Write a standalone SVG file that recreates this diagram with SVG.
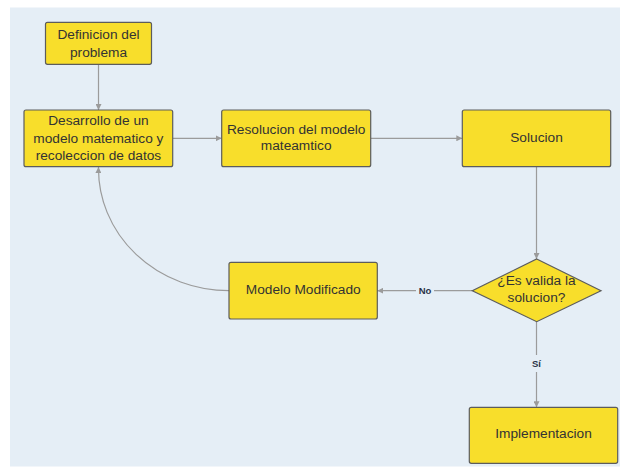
<svg xmlns="http://www.w3.org/2000/svg" width="620" height="470" viewBox="0 0 620 470">
<defs>
<style>
.box{fill:#f8de2b;stroke:#5c5c5c;stroke-width:1.2}
.t{font-family:"Liberation Sans",Arial,sans-serif;font-size:13.7px;fill:#333333;text-anchor:middle}
.lbl{font-family:"Liberation Sans",Arial,sans-serif;font-size:9.5px;font-weight:bold;fill:#2b3348;text-anchor:middle}
.c{fill:none;stroke:#9b9b9b;stroke-width:1.2}
</style>
<marker id="ah" viewBox="0 0 10 10" refX="10" refY="5" markerWidth="6" markerHeight="6" markerUnits="userSpaceOnUse" orient="auto">
<path d="M0,0 L10,5 L0,10 z" fill="#9b9b9b"/>
</marker>
</defs>
<rect x="10" y="7.5" width="610" height="459" fill="#e5eef6"/>
<g id="connectors">
<path class="c" d="M98.5,64.5 L98.5,110" marker-end="url(#ah)"/>
<path class="c" d="M172.7,138.3 L221.7,138.3" marker-end="url(#ah)"/>
<path class="c" d="M370.7,138.3 L462.3,138.3" marker-end="url(#ah)"/>
<path class="c" d="M536.5,166.7 L536.5,259" marker-end="url(#ah)"/>
<path class="c" d="M472.3,290.7 L377.3,290.7" marker-end="url(#ah)"/>
<path class="c" d="M536.5,321.7 L536.5,355 M536.5,372 L536.5,407.3" marker-end="url(#ah)"/>
<path class="c" d="M229,290.7 A130.5 122 0 0 1 98.5,167" marker-end="url(#ah)"/>
<rect x="416" y="284" width="18" height="12" fill="#e5eef6"/>
<text class="lbl" x="425" y="293.5">No</text>
<text class="lbl" x="536.5" y="366.8">Sí</text>
</g>
<g id="definicion">
<rect class="box" x="45.5" y="22.3" width="106" height="42" rx="2"/>
<text class="t" x="98.5" y="39">Definicion del</text>
<text class="t" x="98.5" y="56.5">problema</text>
</g>
<g id="desarrollo">
<rect class="box" x="24" y="110" width="148.7" height="56.7" rx="2"/>
<text class="t" x="98.4" y="125">Desarrollo de un</text>
<text class="t" x="98.4" y="142.5">modelo matematico y</text>
<text class="t" x="98.4" y="160">recoleccion de datos</text>
</g>
<g id="resolucion">
<rect class="box" x="221.7" y="110" width="149" height="56.7" rx="2"/>
<text class="t" x="296.2" y="134">Resolucion del modelo</text>
<text class="t" x="296.2" y="150">mateamtico</text>
</g>
<g id="solucion">
<rect class="box" x="462.3" y="110" width="148.4" height="56.7" rx="2"/>
<text class="t" x="536.5" y="141.5">Solucion</text>
</g>
<g id="decision">
<polygon class="box" points="536.7,259 601,290.7 536.7,321.7 472.3,290.7"/>
<text class="t" x="536.5" y="285">¿Es valida la</text>
<text class="t" x="536.5" y="302">solucion?</text>
</g>
<g id="modelo-modificado">
<rect class="box" x="229" y="262.3" width="148.3" height="56.7" rx="2"/>
<text class="t" x="303.2" y="294">Modelo Modificado</text>
</g>
<g id="implementacion">
<rect class="box" x="469.3" y="407.3" width="148.4" height="56" rx="2"/>
<text class="t" x="543.5" y="438.3">Implementacion</text>
</g>
</svg>
